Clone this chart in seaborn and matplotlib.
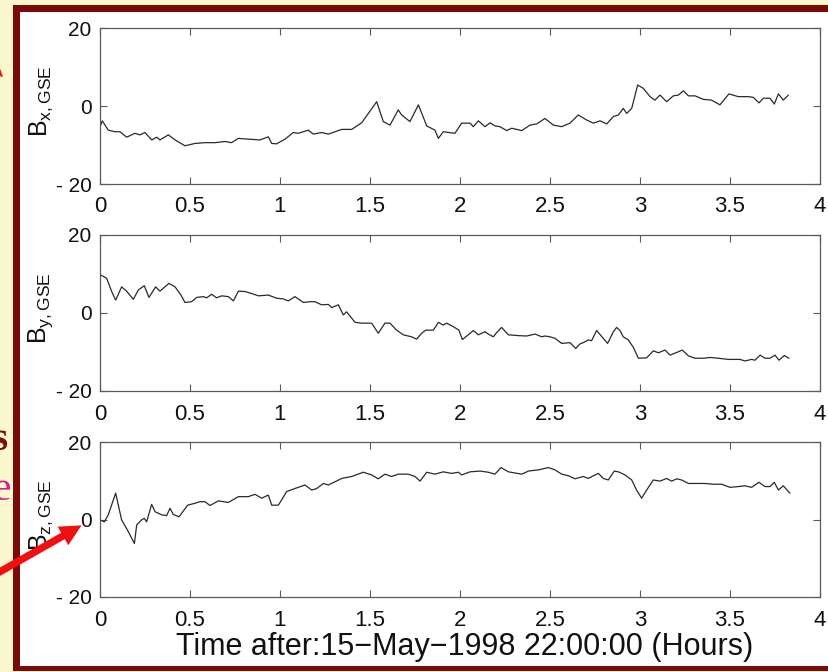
import matplotlib
matplotlib.use("Agg")
import matplotlib.pyplot as plt
import seaborn as sns
from matplotlib.patches import Rectangle, FancyArrowPatch

# ---------------- data ----------------
t_x = [0.000, 0.013, 0.046, 0.083, 0.111, 0.148, 0.194, 0.222, 0.250, 0.287, 0.315, 0.333,
       0.380, 0.417, 0.472, 0.528, 0.583, 0.639, 0.694, 0.731, 0.769, 0.824, 0.889, 0.935,
       0.954, 0.981, 1.028, 1.074, 1.102, 1.157, 1.185, 1.231, 1.269, 1.306, 1.343, 1.398,
       1.454, 1.491, 1.537, 1.574, 1.611, 1.657, 1.676, 1.722, 1.769, 1.815, 1.861, 1.880,
       1.907, 1.972, 2.009, 2.056, 2.074, 2.102, 2.139, 2.167, 2.194, 2.222, 2.259, 2.287,
       2.343, 2.389, 2.426, 2.472, 2.519, 2.565, 2.611, 2.657, 2.704, 2.741, 2.778, 2.815,
       2.852, 2.880, 2.907, 2.926, 2.954, 2.987, 3.019, 3.056, 3.083, 3.111, 3.148, 3.185,
       3.213, 3.241, 3.269, 3.306, 3.352, 3.398, 3.444, 3.494, 3.546, 3.602, 3.630, 3.661,
       3.685, 3.722, 3.746, 3.769, 3.796, 3.824]
bx = [-5.3, -3.8, -6.2, -6.6, -6.6, -8.0, -7.0, -7.4, -6.8, -8.7, -8.0, -8.7,
      -7.4, -8.7, -10.2, -9.6, -9.4, -9.4, -9.1, -9.4, -8.3, -8.5, -8.7, -7.9,
      -9.6, -9.7, -8.5, -6.8, -7.0, -6.2, -7.2, -6.8, -7.2, -6.6, -6.0, -6.0,
      -4.3, -1.9, 1.1, -4.0, -4.9, -1.0, -2.3, -4.0, 0.3, -5.1, -6.2, -8.3,
      -6.6, -7.0, -4.4, -4.4, -5.3, -3.8, -5.3, -4.3, -5.1, -5.3, -6.3, -5.7,
      -6.3, -4.9, -4.6, -3.2, -4.9, -5.3, -4.4, -2.3, -3.6, -4.4, -3.8, -4.6,
      -2.7, -2.3, -0.6, -1.9, -0.6, 5.4, 4.5, 2.4, 1.5, 2.8, 1.1, 2.6,
      2.8, 3.9, 2.6, 2.6, 1.7, 1.5, 0.3, 3.1, 2.4, 2.4, 2.2, 0.8,
      2.0, 2.0, 0.5, 3.1, 1.5, 2.8]

t_y = [0.006, 0.037, 0.065, 0.087, 0.120, 0.148, 0.185, 0.213, 0.246, 0.272, 0.309, 0.333,
       0.383, 0.417, 0.450, 0.472, 0.509, 0.537, 0.574, 0.593, 0.620, 0.648, 0.676, 0.713,
       0.741, 0.769, 0.806, 0.843, 0.880, 0.935, 0.981, 1.019, 1.046, 1.083, 1.130, 1.167,
       1.194, 1.231, 1.269, 1.287, 1.324, 1.352, 1.370, 1.417, 1.454, 1.509, 1.546, 1.583,
       1.611, 1.648, 1.685, 1.731, 1.759, 1.787, 1.809, 1.852, 1.880, 1.907, 1.926, 1.963,
       1.994, 2.013, 2.046, 2.074, 2.102, 2.139, 2.157, 2.185, 2.204, 2.231, 2.269, 2.324,
       2.370, 2.417, 2.454, 2.472, 2.500, 2.528, 2.565, 2.611, 2.643, 2.667, 2.685, 2.713,
       2.731, 2.759, 2.796, 2.820, 2.852, 2.870, 2.889, 2.907, 2.935, 2.963, 2.991, 3.037,
       3.074, 3.102, 3.139, 3.167, 3.194, 3.235, 3.269, 3.306, 3.352, 3.389, 3.435, 3.491,
       3.556, 3.583, 3.620, 3.639, 3.667, 3.694, 3.722, 3.750, 3.772, 3.802, 3.828]
by = [9.7, 8.9, 5.5, 3.3, 6.7, 5.6, 3.5, 5.9, 7.0, 4.0, 6.7, 5.6,
      7.6, 6.7, 4.6, 2.7, 2.9, 4.0, 4.2, 3.9, 4.8, 3.9, 4.4, 4.2,
      3.1, 5.6, 5.5, 5.0, 4.4, 4.6, 3.8, 3.6, 3.1, 4.2, 2.7, 2.9,
      2.9, 2.1, 2.2, 1.4, 2.1, -0.5, 0.3, -2.4, -2.6, -2.6, -5.2, -2.6,
      -2.6, -4.4, -5.6, -6.1, -6.7, -5.2, -4.4, -4.4, -2.4, -3.1, -2.6, -3.5,
      -4.4, -6.8, -5.6, -4.5, -5.6, -4.8, -5.4, -6.1, -5.0, -3.7, -5.6, -5.8,
      -5.9, -5.4, -6.1, -5.9, -6.1, -6.5, -7.8, -7.6, -9.1, -7.9, -7.6, -6.9,
      -7.1, -4.5, -6.5, -7.8, -4.8, -3.7, -4.5, -6.1, -6.9, -8.8, -11.6, -11.5,
      -9.7, -10.2, -9.5, -10.8, -10.3, -9.5, -11.0, -11.6, -11.6, -11.4, -11.6, -11.9,
      -11.9, -12.3, -11.9, -12.1, -10.8, -11.6, -11.6, -10.8, -12.1, -10.9, -11.6]

t_z = [0.000, 0.024, 0.046, 0.087, 0.120, 0.157, 0.191, 0.204, 0.231, 0.246, 0.259, 0.287,
       0.306, 0.343, 0.370, 0.389, 0.407, 0.439, 0.487, 0.528, 0.556, 0.583, 0.611, 0.657,
       0.713, 0.769, 0.824, 0.861, 0.898, 0.935, 0.954, 0.991, 1.037, 1.083, 1.139, 1.176,
       1.204, 1.241, 1.269, 1.343, 1.398, 1.463, 1.509, 1.546, 1.583, 1.620, 1.657, 1.713,
       1.750, 1.778, 1.815, 1.861, 1.907, 1.954, 1.991, 2.009, 2.056, 2.111, 2.157, 2.194,
       2.228, 2.269, 2.343, 2.380, 2.435, 2.491, 2.528, 2.565, 2.602, 2.639, 2.685, 2.713,
       2.741, 2.769, 2.796, 2.824, 2.857, 2.880, 2.917, 2.954, 2.981, 3.009, 3.037, 3.074,
       3.111, 3.148, 3.176, 3.204, 3.231, 3.269, 3.315, 3.361, 3.407, 3.454, 3.500, 3.546,
       3.583, 3.620, 3.661, 3.694, 3.722, 3.746, 3.769, 3.796, 3.833]
bz = [-0.1, -0.6, 1.2, 6.8, -0.1, -3.1, -6.2, -1.4, -0.1, 0.3, -0.6, 3.9,
      2.0, 1.2, 1.0, 2.9, 1.3, 0.7, 3.7, 4.2, 4.6, 4.6, 3.6, 4.8,
      4.4, 5.9, 5.9, 6.5, 5.5, 6.3, 3.7, 3.7, 7.2, 8.0, 8.9, 7.6,
      8.0, 9.3, 8.9, 10.6, 11.1, 12.2, 11.5, 10.5, 11.7, 11.1, 11.7, 11.7,
      11.1, 9.9, 12.2, 11.7, 12.3, 11.9, 12.2, 11.5, 12.3, 12.5, 12.2, 11.7,
      13.4, 12.3, 11.7, 12.5, 12.8, 13.4, 12.8, 11.7, 11.3, 10.5, 11.1, 10.6,
      11.3, 11.9, 10.6, 10.2, 12.5, 12.3, 11.5, 10.2, 7.6, 5.5, 7.6, 10.2,
      9.9, 10.6, 9.9, 10.5, 10.2, 9.3, 9.3, 9.3, 9.1, 9.1, 8.3, 8.5,
      8.7, 8.3, 9.6, 8.5, 8.5, 9.6, 7.6, 8.7, 6.8]

x_ticks = [0, 0.5, 1, 1.5, 2, 2.5, 3, 3.5, 4]
x_tick_labels = ["0", "0.5", "1", "1.5", "2", "2.5", "3", "3.5", "4"]
y_ticks = [-20, 0, 20]
y_tick_labels = ["- 20", "0", "20"]
y_labels = [r"$\mathrm{B}_{\mathrm{x,GSE}}$",
            r"$\mathrm{B}_{\mathrm{y,GSE}}$",
            r"$\mathrm{B}_{\mathrm{z,GSE}}$"]
x_label = "Time after:15\u2212May\u22121998 22:00:00 (Hours)"

# ---------------- style ----------------
sns.set_theme(style="white")
plt.rcParams["font.family"] = ["Liberation Sans", "DejaVu Sans"]
plt.rcParams["mathtext.fontset"] = "custom"
plt.rcParams["mathtext.rm"] = "Liberation Sans"
plt.rcParams["mathtext.it"] = "Liberation Sans:italic"
plt.rcParams["mathtext.bf"] = "Liberation Sans:bold"

W, H = 829, 672
fig = plt.figure(figsize=(W / 100, H / 100), dpi=100, facecolor="#FBF8CE")

def fx(px):
    return px / W

def fy(py):
    return 1 - py / H

# white slide area and dark red frame (drawn beneath the axes)
fig.patches.append(Rectangle((fx(20), fy(666)), fx(W - 20), (666 - 12) / H,
                             transform=fig.transFigure, facecolor="white",
                             edgecolor="none", zorder=-3))
frame = "#7D0A0A"
fig.patches.append(Rectangle((fx(13), fy(671)), fx(7), (671 - 5) / H,
                             transform=fig.transFigure, facecolor=frame, edgecolor="none", zorder=-2))
fig.patches.append(Rectangle((fx(13), fy(12)), fx(W - 13), 7 / H,
                             transform=fig.transFigure, facecolor=frame, edgecolor="none", zorder=-2))
fig.patches.append(Rectangle((fx(13), fy(671)), fx(W - 13), 5 / H,
                             transform=fig.transFigure, facecolor=frame, edgecolor="none", zorder=-2))

series = [(t_x, bx), (t_y, by), (t_z, bz)]
axes_px = [(28, 184), (235, 391), (442, 597)]
L, R = 100, 820
spine_col = "#5a5a5a"

for i, ((tt, vv), (top, bot)) in enumerate(zip(series, axes_px)):
    ax = fig.add_axes([fx(L), fy(bot), (R - L) / W, (bot - top) / H])
    ax.set_zorder(1)
    ax.set_facecolor("white")
    sns.lineplot(x=tt, y=vv, ax=ax, color="#2a2a2a", linewidth=0.9,
                 estimator=None, sort=False, legend=False)
    ax.set_xlim(0, 4)
    ax.set_ylim(-20, 20)
    ax.set_xticks(x_ticks)
    ax.set_xticklabels(x_tick_labels)
    ax.set_yticks(y_ticks)
    ax.set_yticklabels(y_tick_labels)
    for s in ax.spines.values():
        s.set_visible(True)
        s.set_color(spine_col)
        s.set_linewidth(0.9)
    ax.tick_params(axis="both", direction="in", length=5, width=0.8, color=spine_col,
                   top=True, right=True, bottom=True, left=True, labelcolor="#111111")
    ax.tick_params(axis="x", labelsize=16, pad=9)
    ax.tick_params(axis="y", labelsize=15, pad=6)
    ax.set_xlabel("")
    ax.set_ylabel(y_labels[i], fontsize=18, color="#111111")
    ax.yaxis.set_label_coords(-0.062, 0.53)
    if i == 2:
        ax.set_xlabel(x_label, fontsize=22, color="#111111")
        ax.xaxis.set_label_coords(0.507, -0.225)

# slide decorations at the left edge
fig.text(fx(8), fy(450), "s", ha="right", va="baseline", color="#7A1010",
         fontsize=28, fontweight="bold", family="Liberation Serif", zorder=5)
fig.text(fx(11), fy(500), "e", ha="right", va="baseline", color="#E0169A",
         fontsize=30, family="Liberation Serif", zorder=5)
fig.add_artist(FancyArrowPatch((fx(-4), fy(574)), (fx(84), fy(524)),
                               transform=fig.transFigure,
                               arrowstyle="simple,head_length=1.1,head_width=1.1,tail_width=0.38",
                               mutation_scale=14, color="#F01010", lw=0, zorder=6))
fig.add_artist(FancyArrowPatch((fx(-25), fy(50)), (fx(5), fy(79)),
                               transform=fig.transFigure,
                               arrowstyle="simple,head_length=1.1,head_width=1.1,tail_width=0.38",
                               mutation_scale=12, color="#F01010", lw=0, zorder=6))

fig.savefig("out.png", dpi=100, facecolor=fig.get_facecolor())
